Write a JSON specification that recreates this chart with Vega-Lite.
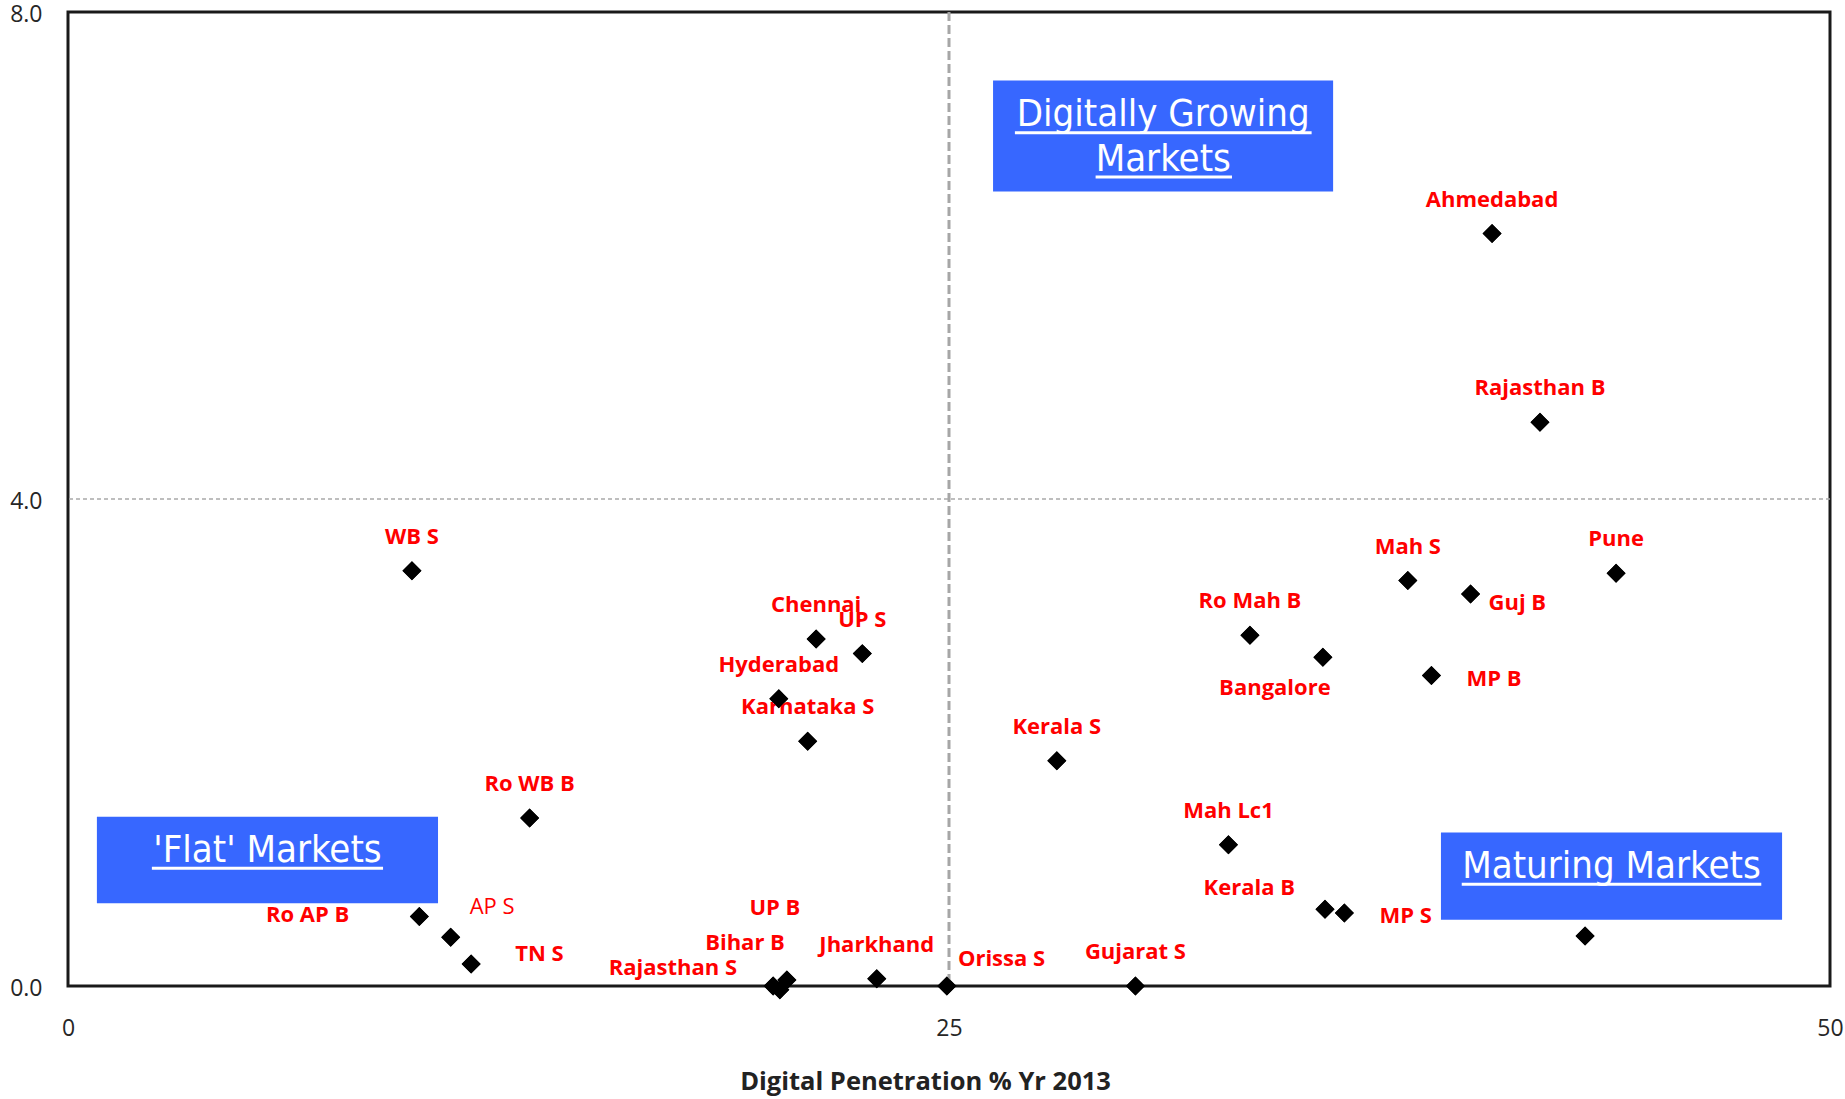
{
  "$schema": "https://vega.github.io/schema/vega-lite/v6.json",
  "width": 1762,
  "height": 974,
  "autosize": "none",
  "padding": {"left": 68, "top": 12, "right": 15, "bottom": 113},
  "background": "white",
  "config": {
    "view": {"stroke": "#1a1a1a", "strokeWidth": 3},
    "axis": {"grid": false, "domain": false, "ticks": false}
  },
  "datasets": {
    "markets": [
      {"market": "Ahmedabad", "penetration": 40.41, "growth": 6.18},
      {"market": "Rajasthan B", "penetration": 41.77, "growth": 4.63},
      {"market": "Pune", "penetration": 43.93, "growth": 3.39},
      {"market": "Mah S", "penetration": 38.02, "growth": 3.33},
      {"market": "Guj B", "penetration": 39.80, "growth": 3.22},
      {"market": "MP B", "penetration": 38.69, "growth": 2.55},
      {"market": "Ro Mah B", "penetration": 33.54, "growth": 2.88},
      {"market": "Bangalore", "penetration": 35.61, "growth": 2.70},
      {"market": "Chennai", "penetration": 21.23, "growth": 2.85},
      {"market": "UP S", "penetration": 22.54, "growth": 2.73},
      {"market": "Hyderabad", "penetration": 20.17, "growth": 2.36},
      {"market": "Karnataka S", "penetration": 20.99, "growth": 2.01},
      {"market": "WB S", "penetration": 9.76, "growth": 3.41},
      {"market": "Ro WB B", "penetration": 13.10, "growth": 1.38},
      {"market": "Kerala S", "penetration": 28.06, "growth": 1.85},
      {"market": "Mah Lc1", "penetration": 32.93, "growth": 1.16},
      {"market": "Kerala B", "penetration": 35.67, "growth": 0.63},
      {"market": "MP S", "penetration": 36.22, "growth": 0.60},
      {"market": "", "penetration": 43.05, "growth": 0.41},
      {"market": "Ro AP B", "penetration": 9.97, "growth": 0.57},
      {"market": "AP S", "penetration": 10.86, "growth": 0.40},
      {"market": "TN S", "penetration": 11.44, "growth": 0.18},
      {"market": "Rajasthan S", "penetration": 20.01, "growth": 0.00},
      {"market": "UP B", "penetration": 20.20, "growth": -0.03},
      {"market": "Bihar B", "penetration": 20.40, "growth": 0.05},
      {"market": "Jharkhand", "penetration": 22.95, "growth": 0.06},
      {"market": "Orissa S", "penetration": 24.94, "growth": 0.00},
      {"market": "Gujarat S", "penetration": 30.29, "growth": 0.00}
    ]
  },
  "layer": [
    {
      "data": {"name": "markets"},
      "mark": {"type": "point", "shape": "diamond", "filled": true, "size": 360, "color": "#000000", "opacity": 1, "clip": false},
      "encoding": {
        "x": {"field": "penetration", "type": "quantitative", "scale": {"domain": [0, 50], "nice": false, "zero": false},
          "axis": {"values": [0, 25, 50], "title": "Digital Penetration %   Yr 2013",
            "labelFont": "Open Sans", "labelFontSize": 23, "labelColor": "#262626", "labelPadding": 31, "labelBaseline": "top", "labelFlush": false, "labelOverlap": false,
            "titleFont": "Open Sans", "titleFontSize": 25.5, "titleFontWeight": "bold", "titleColor": "#222222",
            "titleX": 857, "titleY": 103, "titleBaseline": "alphabetic", "titleAlign": "center"}},
        "y": {"field": "growth", "type": "quantitative", "scale": {"domain": [0, 8], "nice": false, "zero": false},
          "axis": {"values": [0, 4, 8], "format": ".1f", "title": "",
            "labelFont": "Open Sans", "labelFontSize": 23, "labelColor": "#262626", "labelPadding": 26, "labelOffset": 2, "labelFlush": false, "labelOverlap": false}}
      }
    },
    {
      "data": {"values": [{"threshold": 4}]},
      "mark": {"type": "rule", "stroke": "#A9A9A9", "strokeWidth": 1.5, "strokeDash": [4, 3]},
      "encoding": {"y": {"field": "threshold", "type": "quantitative"}}
    },
    {
      "data": {"values": [{"threshold": 25}]},
      "mark": {"type": "rule", "stroke": "#A6A6A6", "strokeWidth": 3, "strokeDash": [9, 4]},
      "encoding": {"x": {"field": "threshold", "type": "quantitative"}}
    },
    {
      "data": {"name": "markets"},
      "transform": [{"filter": {"field": "market", "oneOf": ["Ahmedabad", "Rajasthan B", "Pune", "Mah S", "Ro Mah B", "Chennai", "UP S", "Hyderabad", "Karnataka S", "WB S", "Ro WB B", "Kerala S", "Mah Lc1", "Jharkhand", "Gujarat S"]}}],
      "mark": {"type": "text", "font": "Open Sans", "fontSize": 22, "fontWeight": "bold", "fill": "#FF0000", "align": "center", "baseline": "alphabetic", "dy": -27},
      "encoding": {"x": {"field": "penetration", "type": "quantitative"}, "y": {"field": "growth", "type": "quantitative"}, "text": {"field": "market"}}
    },
    {
      "data": {"name": "markets"},
      "transform": [{"filter": {"field": "market", "equal": "Guj B"}}],
      "mark": {"type": "text", "font": "Open Sans", "fontSize": 22, "fontWeight": "bold", "fill": "#FF0000", "align": "left", "baseline": "alphabetic", "dx": 18, "dy": 16},
      "encoding": {"x": {"field": "penetration", "type": "quantitative"}, "y": {"field": "growth", "type": "quantitative"}, "text": {"field": "market"}}
    },
    {
      "data": {"name": "markets"},
      "transform": [{"filter": {"field": "market", "oneOf": ["MP B", "MP S"]}}],
      "mark": {"type": "text", "font": "Open Sans", "fontSize": 22, "fontWeight": "bold", "fill": "#FF0000", "align": "left", "baseline": "alphabetic", "dx": 35, "dy": 10},
      "encoding": {"x": {"field": "penetration", "type": "quantitative"}, "y": {"field": "growth", "type": "quantitative"}, "text": {"field": "market"}}
    },
    {
      "data": {"name": "markets"},
      "transform": [{"filter": {"field": "market", "equal": "TN S"}}],
      "mark": {"type": "text", "font": "Open Sans", "fontSize": 22, "fontWeight": "bold", "fill": "#FF0000", "align": "left", "baseline": "alphabetic", "dx": 44, "dy": -3},
      "encoding": {"x": {"field": "penetration", "type": "quantitative"}, "y": {"field": "growth", "type": "quantitative"}, "text": {"field": "market"}}
    },
    {
      "data": {"name": "markets"},
      "transform": [{"filter": {"field": "market", "equal": "AP S"}}],
      "mark": {"type": "text", "font": "Open Sans", "fontSize": 22, "fontWeight": "normal", "fill": "#FF0000", "align": "left", "baseline": "alphabetic", "dx": 19, "dy": -23},
      "encoding": {"x": {"field": "penetration", "type": "quantitative"}, "y": {"field": "growth", "type": "quantitative"}, "text": {"field": "market"}}
    },
    {
      "data": {"name": "markets"},
      "transform": [{"filter": {"field": "market", "equal": "Orissa S"}}],
      "mark": {"type": "text", "font": "Open Sans", "fontSize": 22, "fontWeight": "bold", "fill": "#FF0000", "align": "left", "baseline": "alphabetic", "dx": 11, "dy": -20},
      "encoding": {"x": {"field": "penetration", "type": "quantitative"}, "y": {"field": "growth", "type": "quantitative"}, "text": {"field": "market"}}
    },
    {
      "data": {"name": "markets"},
      "transform": [{"filter": {"field": "market", "equal": "Bangalore"}}],
      "mark": {"type": "text", "font": "Open Sans", "fontSize": 22, "fontWeight": "bold", "fill": "#FF0000", "align": "center", "baseline": "alphabetic", "dx": -48, "dy": 38},
      "encoding": {"x": {"field": "penetration", "type": "quantitative"}, "y": {"field": "growth", "type": "quantitative"}, "text": {"field": "market"}}
    },
    {
      "data": {"name": "markets"},
      "transform": [{"filter": {"field": "market", "equal": "Ro AP B"}}],
      "mark": {"type": "text", "font": "Open Sans", "fontSize": 22, "fontWeight": "bold", "fill": "#FF0000", "align": "right", "baseline": "alphabetic", "dx": -70, "dy": 5},
      "encoding": {"x": {"field": "penetration", "type": "quantitative"}, "y": {"field": "growth", "type": "quantitative"}, "text": {"field": "market"}}
    },
    {
      "data": {"name": "markets"},
      "transform": [{"filter": {"field": "market", "equal": "Kerala B"}}],
      "mark": {"type": "text", "font": "Open Sans", "fontSize": 22, "fontWeight": "bold", "fill": "#FF0000", "align": "right", "baseline": "alphabetic", "dx": -30, "dy": -14},
      "encoding": {"x": {"field": "penetration", "type": "quantitative"}, "y": {"field": "growth", "type": "quantitative"}, "text": {"field": "market"}}
    },
    {
      "data": {"name": "markets"},
      "transform": [{"filter": {"field": "market", "equal": "Rajasthan S"}}],
      "mark": {"type": "text", "font": "Open Sans", "fontSize": 22, "fontWeight": "bold", "fill": "#FF0000", "align": "right", "baseline": "alphabetic", "dx": -36, "dy": -11},
      "encoding": {"x": {"field": "penetration", "type": "quantitative"}, "y": {"field": "growth", "type": "quantitative"}, "text": {"field": "market"}}
    },
    {
      "data": {"name": "markets"},
      "transform": [{"filter": {"field": "market", "equal": "Bihar B"}}],
      "mark": {"type": "text", "font": "Open Sans", "fontSize": 22, "fontWeight": "bold", "fill": "#FF0000", "align": "right", "baseline": "alphabetic", "dx": -2, "dy": -30},
      "encoding": {"x": {"field": "penetration", "type": "quantitative"}, "y": {"field": "growth", "type": "quantitative"}, "text": {"field": "market"}}
    },
    {
      "data": {"name": "markets"},
      "transform": [{"filter": {"field": "market", "equal": "UP B"}}],
      "mark": {"type": "text", "font": "Open Sans", "fontSize": 22, "fontWeight": "bold", "fill": "#FF0000", "align": "center", "baseline": "alphabetic", "dx": -5, "dy": -75},
      "encoding": {"x": {"field": "penetration", "type": "quantitative"}, "y": {"field": "growth", "type": "quantitative"}, "text": {"field": "market"}}
    },
    {
      "data": {"name": "markets"},
      "mark": {"type": "point", "shape": "diamond", "filled": true, "size": 360, "color": "#000000", "opacity": 1, "clip": false},
      "encoding": {"x": {"field": "penetration", "type": "quantitative"}, "y": {"field": "growth", "type": "quantitative"}}
    },
    {
      "data": {"values": [{"line1": "Digitally Growing", "line2": "Markets"}]},
      "layer": [
        {"mark": {"type": "rect", "fill": "#3767FF"},
         "encoding": {"x": {"datum": 26.25, "type": "quantitative"}, "x2": {"datum": 35.90}, "y": {"datum": 7.437, "type": "quantitative"}, "y2": {"datum": 6.525}}},
        {"mark": {"type": "text", "font": "DejaVu Sans Condensed, DejaVu Sans", "fontSize": 38, "fill": "white", "align": "center", "baseline": "alphabetic"},
         "encoding": {"x": {"datum": 31.08, "type": "quantitative"}, "y": {"datum": 7.06, "type": "quantitative"}, "text": {"field": "line1"}}},
        {"mark": {"type": "text", "font": "DejaVu Sans Condensed, DejaVu Sans", "fontSize": 38, "fill": "white", "align": "center", "baseline": "alphabetic"},
         "encoding": {"x": {"datum": 31.08, "type": "quantitative"}, "y": {"datum": 6.694, "type": "quantitative"}, "text": {"field": "line2"}}},
        {"mark": {"type": "rule", "stroke": "white", "strokeWidth": 3},
         "encoding": {"x": {"datum": 26.87, "type": "quantitative"}, "x2": {"datum": 35.29}, "y": {"datum": 7.009, "type": "quantitative"}}},
        {"mark": {"type": "rule", "stroke": "white", "strokeWidth": 3},
         "encoding": {"x": {"datum": 29.16, "type": "quantitative"}, "x2": {"datum": 33.03}, "y": {"datum": 6.644, "type": "quantitative"}}}
      ]
    },
    {
      "data": {"values": [{"line1": "'Flat' Markets"}]},
      "layer": [
        {"mark": {"type": "rect", "fill": "#3767FF"},
         "encoding": {"x": {"datum": 0.82, "type": "quantitative"}, "x2": {"datum": 10.50}, "y": {"datum": 1.391, "type": "quantitative"}, "y2": {"datum": 0.680}}},
        {"mark": {"type": "text", "font": "DejaVu Sans Condensed, DejaVu Sans", "fontSize": 38, "fill": "white", "align": "center", "baseline": "alphabetic"},
         "encoding": {"x": {"datum": 5.66, "type": "quantitative"}, "y": {"datum": 1.017, "type": "quantitative"}, "text": {"field": "line1"}}},
        {"mark": {"type": "rule", "stroke": "white", "strokeWidth": 3},
         "encoding": {"x": {"datum": 2.38, "type": "quantitative"}, "x2": {"datum": 8.94}, "y": {"datum": 0.967, "type": "quantitative"}}}
      ]
    },
    {
      "data": {"values": [{"line1": "Maturing Markets"}]},
      "layer": [
        {"mark": {"type": "rect", "fill": "#3767FF"},
         "encoding": {"x": {"datum": 38.96, "type": "quantitative"}, "x2": {"datum": 48.64}, "y": {"datum": 1.26, "type": "quantitative"}, "y2": {"datum": 0.545}}},
        {"mark": {"type": "text", "font": "DejaVu Sans Condensed, DejaVu Sans", "fontSize": 38, "fill": "white", "align": "center", "baseline": "alphabetic"},
         "encoding": {"x": {"datum": 43.80, "type": "quantitative"}, "y": {"datum": 0.885, "type": "quantitative"}, "text": {"field": "line1"}}},
        {"mark": {"type": "rule", "stroke": "white", "strokeWidth": 3},
         "encoding": {"x": {"datum": 39.55, "type": "quantitative"}, "x2": {"datum": 48.05}, "y": {"datum": 0.835, "type": "quantitative"}}}
      ]
    }
  ]
}
